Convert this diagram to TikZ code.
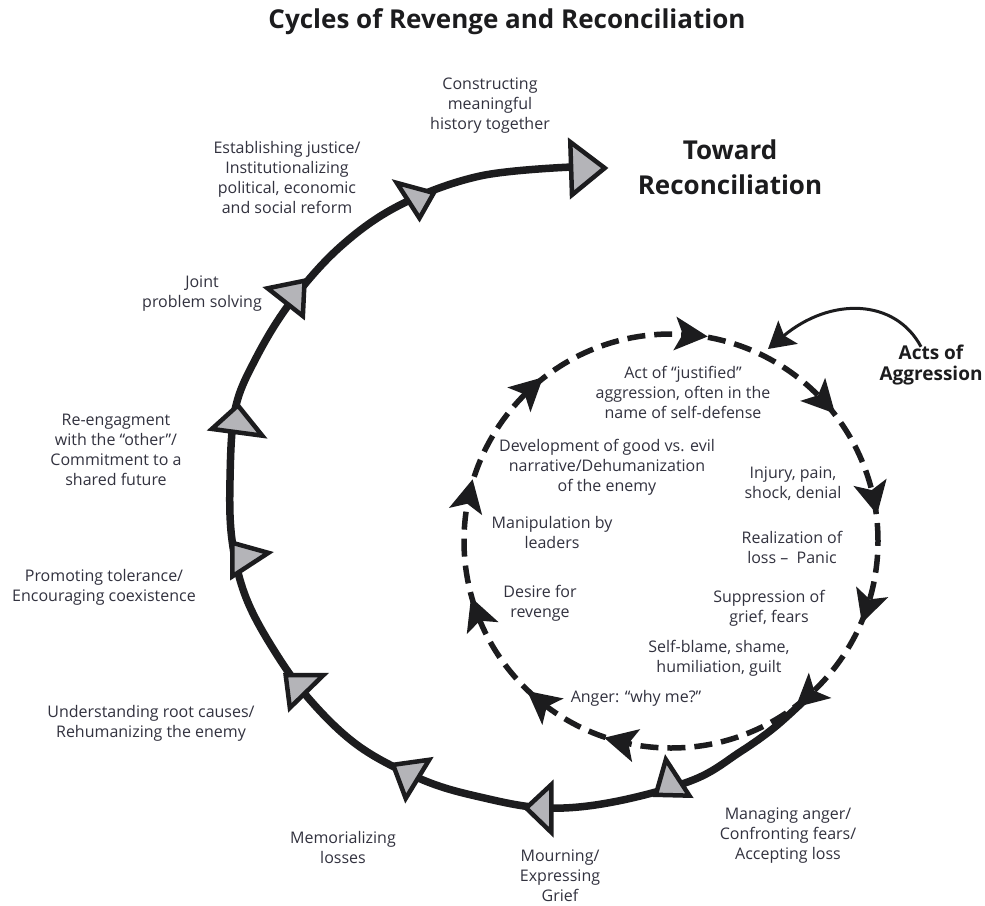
\documentclass[tikz,border=0pt]{standalone}
\usepackage{fontspec}
\setmainfont{Open Sans}
\usetikzlibrary{calc,arrows.meta}

\definecolor{ink}{HTML}{1C1C1E}
\definecolor{label}{HTML}{32323F}
\definecolor{flagfill}{HTML}{B4B4B8}

% grey arrowhead sitting on the outer path, given by its three corners
\newcommand\flagmark[6]{%
  \pgfmathsetmacro\fgx{(#1+#3+#5)/3}%
  \pgfmathsetmacro\fgy{(#2+#4+#6)/3}%
  \filldraw[flag]
    ({\fgx+0.84*(#1-\fgx)},{\fgy+0.84*(#2-\fgy)}) --
    ({\fgx+0.84*(#3-\fgx)},{\fgy+0.84*(#4-\fgy)}) --
    ({\fgx+0.84*(#5-\fgx)},{\fgy+0.84*(#6-\fgy)}) -- cycle;}

% black arrowhead on the dashed ring, clockwise, at a given angle
\newcommand\ringtip[1]{%
  \fill[ink, shift={($(cyc)+(#1:207pt)$)}, rotate=#1-90]
    (18pt,0pt) -- (-15pt,17pt) -- (-7pt,0pt) -- (-15pt,-17pt) -- cycle;}

\begin{document}
\begin{tikzpicture}[x=1pt,y=-1pt,
  lbl/.style={align=center, text=label, inner sep=0pt,
    font=\fontsize{16}{20}\selectfont},
  headline/.style={align=center, text=ink, inner sep=0pt,
    font=\bfseries\fontsize{26}{30}\selectfont},
  flag/.style={fill=flagfill, draw=ink, line width=4.5pt, line join=miter},
  spiral/.style={draw=ink, line width=7.5pt},
  dashring/.style={draw=ink, line width=5.5pt, dash pattern=on 18pt off 9pt},
  pointer/.style={draw=ink, line width=3pt,
    -{Stealth[length=26pt, width=30pt, inset=5pt]}}]

\useasboundingbox (0,0) rectangle (985,905);
\fill[white] (0,0) rectangle (985,905);

% title
\node[headline] (title) at (507,22) {Cycles of Revenge and Reconciliation};

% inner cycle of revenge
\coordinate (cyc) at (671,541);
\draw[dashring] (cyc) circle[radius=207pt];
\foreach \a in {84.8,42.8,12.3,-18.3,-48.2,-103.8,-128.8,-159.3,167.7,133}
  {\ringtip{\a}}

% outer path toward reconciliation
\coordinate (spiralstart) at (809,696);
\coordinate (spiralend) at (572,167);
\draw[spiral] plot[smooth, tension=0.6] coordinates {
  (spiralstart) (775,727) (740,752) (693,780) (613,802) (545,808)
  (480,797) (423,780) (360,747) (310,700) (272,647) (245,595)
  (232,540) (230,480) (235,410) (255,360) (290,303) (340,247)
  (400,205) (480,176) (spiralend)};

\flagmark{665}{755}{653}{797}{693}{798}
\flagmark{523}{808}{553}{780}{553}{837}
\flagmark{390}{763}{433}{757}{405}{803}
\flagmark{283}{673}{328}{673}{288}{712}
\flagmark{230}{540}{273}{552}{230}{580}
\flagmark{238}{402}{207}{430}{267}{438}
\flagmark{263}{287}{307}{278}{305}{320}
\flagmark{393}{180}{437}{192}{420}{222}
\flagmark{568}{137}{609}{168}{570}{200}

% headings
\node[headline, font=\bfseries\fontsize{26}{35}\selectfont] (toward) at (730,167)
  {Toward\\Reconciliation};
\node[headline, font=\bfseries\fontsize{19}{21}\selectfont] (acts) at (931,365)
  {Acts of\\Aggression};
\coordinate (hit) at (768,349);
\draw[pointer] ([xshift=-10pt,yshift=-2pt]acts.north) .. controls (895,298) and (830,297) .. (hit);

% outer stages
\node[lbl] (s1) at (490,106) {Constructing\\meaningful\\history together};
\node[lbl] (s2) at (287,177) {Establishing justice/\\Institutionalizing\\political, economic\\and social reform};
\node[lbl] (s3) at (202,294) {Joint\\problem solving};
\node[lbl] (s4) at (116,450) {Re-engagment\\with the ``other''/\\Commitment to a\\shared future};
\node[lbl] (s5) at (104,587) {Promoting tolerance/\\Encouraging coexistence};
\node[lbl] (s6) at (151,723) {Understanding root causes/\\Rehumanizing the enemy};
\node[lbl] (s7) at (343,847) {Memorializing\\losses};
\node[lbl] (s8) at (560,876) {Mourning/\\Expressing\\Grief};
\node[lbl] (s9) at (788,836) {Managing anger/\\Confronting fears/\\Accepting loss};

% inner stages
\node[lbl] (r1) at (683,392) {Act of ``justified''\\aggression, often in the\\name of self-defense};
\node[lbl] (r2) at (793,484) {Injury, pain,\\shock, denial};
\node[lbl] (r3) at (792,547) {Realization of\\loss --\ \ Panic};
\node[lbl] (r4) at (769,608) {Suppression of\\grief, fears};
\node[lbl] (r5) at (719,658) {Self-blame, shame,\\humiliation, guilt};
\node[lbl] (r6) at (636,698) {Anger: ``why me?''};
\node[lbl] (r7) at (540,603) {Desire for\\revenge};
\node[lbl] (r8) at (552,532) {Manipulation by\\leaders};
\node[lbl] (r9) at (607,467) {Development of good vs. evil\\narrative/Dehumanization\\of the enemy};

\end{tikzpicture}
\end{document}
